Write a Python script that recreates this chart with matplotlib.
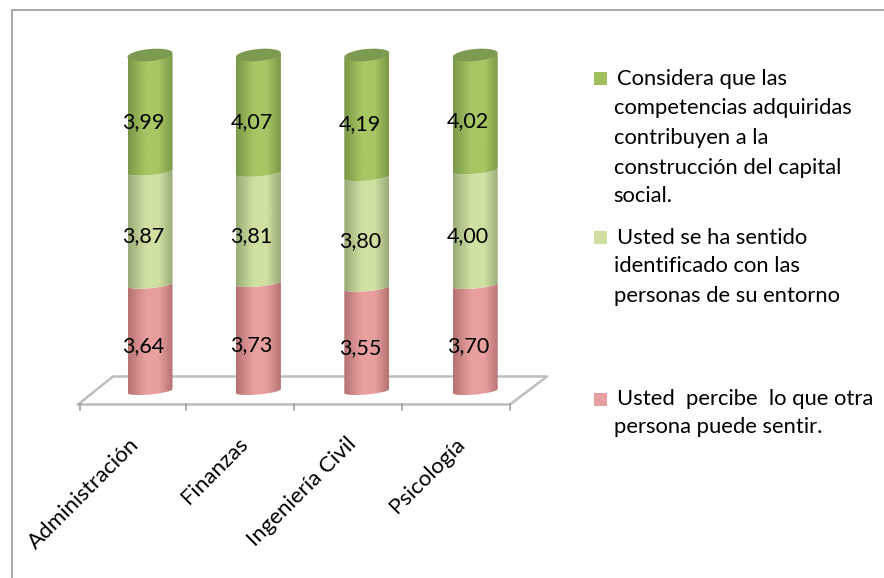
import numpy as np
import matplotlib
matplotlib.use("Agg")
import matplotlib.pyplot as plt
from matplotlib.colors import LinearSegmentedColormap
from matplotlib.patches import Polygon, Rectangle

# --- data ---
carreras = ["Administración", "Finanzas", "Ingeniería Civil", "Psicología"]
percibe = [3.64, 3.73, 3.55, 3.70]
identificado = [3.87, 3.81, 3.80, 4.00]
capital = [3.99, 4.07, 4.19, 4.02]

legend_capital = ["Considera que las", "competencias adquiridas", "contribuyen a la",
                  "construcción del capital", "social."]
legend_identificado = ["Usted se ha sentido", "identificado con las", "personas de su entorno"]
legend_percibe = ["Usted  percibe  lo que otra", "persona puede sentir."]

# couleurs : bord, centre, swatch
ROSE = ("#B57372", "#E8A09F", "#E6A09F")
VERT_CLAIR = ("#9AAB79", "#CFE1A2", "#CDDE9E")
VERT = ("#7A9848", "#A6C763", "#A0C05E")
CAP = "#7D9B50"
FLOOR = "#BEBEBE"

W, H = 884, 578
X0, DX = 150.0, 108.4   # pixel of bar 0, pixels per category
Y0, DY = 391.0, 3.36    # pixel of 0 %, pixels per percent

plt.rcParams['font.family'] = ['Lato', 'DejaVu Sans']
fig = plt.figure(figsize=(W / 100, H / 100), dpi=100, facecolor="white")
ax = fig.add_axes([0, 0, 1, 1])
ax.set_axis_off()


def px(x, y):
    # pixel position of the picture -> data coords of the axes
    return (x - X0) / DX, (Y0 - y) / DY


def arc(xc, v, t, b_px=3.5):
    # tilted ellipse of the cylinder, rises slightly to the right
    a = 22.5 / DX
    b = b_px / DY
    tilt = 2.0 / DY
    return xc + a * np.cos(t), v + b * np.sin(t) + tilt * np.cos(t)


def segment(xc, v_bas, v_haut, colors, z):
    t = np.linspace(np.pi, 2 * np.pi, 40)
    xb, yb = arc(xc, v_bas, t)
    xh, yh = arc(xc, v_haut, t[::-1])
    pts = np.column_stack([np.r_[xb, xh], np.r_[yb, yh]])
    clip = Polygon(pts, closed=True, transform=ax.transData, facecolor="none", edgecolor="none")
    ax.add_patch(clip)
    cmap = LinearSegmentedColormap.from_list("c", [colors[0], colors[1], colors[1], colors[0]])
    grad = np.interp(np.linspace(0, 1, 60), [0, 0.40, 0.68, 1], [0, 0.34, 0.66, 1])[None, :]
    a = 22.5 / DX
    im = ax.imshow(grad, cmap=cmap, aspect="auto", extent=[xc - a, xc + a, yb.min() - 1, yh.max() + 1],
                   zorder=z, interpolation="bilinear")
    im.set_clip_path(clip)


def cap(xc, v):
    t = np.linspace(0, 2 * np.pi, 80)
    x, y = arc(xc, v, t, b_px=6.0)
    ax.add_patch(Polygon(np.column_stack([x, y]), closed=True, facecolor=CAP, edgecolor="none", zorder=6))


# cadre : seulement haut et gauche
ax.plot(*zip(px(11.5, 578), px(11.5, 9.5), px(884, 9.5)),
        color="#9A9A9A", lw=1.2, zorder=1, solid_joinstyle="miter")

# sol 3D
floor = [px(78, 404.5), px(113, 376.5), px(547, 376.5), px(510, 404.5), px(78, 404.5)]
ax.plot(*zip(*floor), color=FLOOR, lw=1.8, zorder=2)
for tx in [80, 186, 294, 402, 510]:
    ax.plot(*zip(px(tx, 404), px(tx, 410)), color="#A0A0A0", lw=1.2, zorder=2)

for i, nom in enumerate(carreras):
    total = percibe[i] + identificado[i] + capital[i]
    p1 = 100 * percibe[i] / total
    p2 = 100 * identificado[i] / total
    p3 = 100 * capital[i] / total
    segment(i, 0, p1, ROSE, 3)
    segment(i, p1, p1 + p2, VERT_CLAIR, 4)
    segment(i, p1 + p2, 100, VERT, 5)
    cap(i, 100)
    for bas, haut, val in [(0, p1, percibe[i]), (p1, p1 + p2, identificado[i]), (p1 + p2, 100, capital[i])]:
        ax.annotate(f"{val:.2f}".replace(".", ","), (i, (bas + haut) / 2), xytext=(-5, -6),
                    textcoords="offset points", ha="center", va="center",
                    fontsize=15.5, color="black", zorder=8)
    lx, ly = px(129 + DX * i, 434)
    ax.text(lx, ly, nom, rotation=45, rotation_mode="anchor", ha="right", va="top",
            fontsize=16, color="black", zorder=8)

ax.set_xlim(-X0 / DX, (W - X0) / DX)
ax.set_ylim((Y0 - H) / DY, Y0 / DY)

# leyenda
for swatch, lignes, y_sw, ys in [
    (VERT[2], legend_capital, 78.5, [79, 108, 138, 168, 196]),
    (VERT_CLAIR[2], legend_identificado, 237, [238, 266, 296]),
    (ROSE[2], legend_percibe, 399, [399, 427]),
]:
    sx, sy = px(594, y_sw + 6.5)
    sx2, sy2 = px(607, y_sw - 6.5)
    ax.add_patch(Rectangle((sx, sy), sx2 - sx, sy2 - sy, facecolor=swatch, edgecolor="none", zorder=8))
    for k, (txt, y) in enumerate(zip(lignes, ys)):
        tx, ty = px(617 if k == 0 else 613.5, y)
        ax.text(tx, ty, txt, ha="left", va="center", fontsize=15.8, color="black", zorder=8)

fig.savefig("out.png", dpi=100)
